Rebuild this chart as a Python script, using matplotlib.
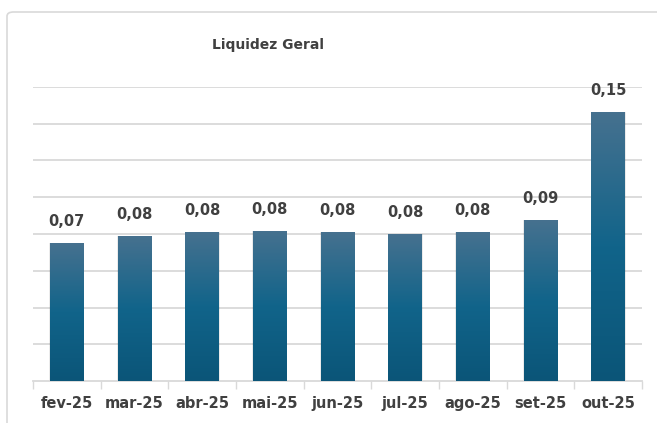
import matplotlib
matplotlib.use("Agg")
import matplotlib.pyplot as plt
import numpy as np
from matplotlib.colors import LinearSegmentedColormap
from matplotlib.patches import FancyBboxPatch

categories = ["fev-25", "mar-25", "abr-25", "mai-25", "jun-25", "jul-25", "ago-25", "set-25", "out-25"]
values = [0.0749, 0.0789, 0.0809, 0.0818, 0.0809, 0.0798, 0.0809, 0.0875, 0.1462]
labels = ["0,07", "0,08", "0,08", "0,08", "0,08", "0,08", "0,08", "0,09", "0,15"]
title = "Liquidez Geral"

W, H = 657, 423
fig = plt.figure(figsize=(W / 100, H / 100), dpi=100)
fig.patch.set_facecolor("white")

# outer chart frame (right and bottom edges fall outside the picture)
frame = FancyBboxPatch((7 / W, -0.2), 1.0, 1 - 12 / H + 0.2,
                       boxstyle="round,pad=0,rounding_size=0.01",
                       transform=fig.transFigure, fill=False,
                       edgecolor="#d9d9d9", linewidth=1.2, clip_on=False)
fig.patches.append(frame)

ax = fig.add_axes([33 / W, 1 - 381 / H, (642 - 33) / W, (381 - 87) / H])
ax.set_xlim(-0.5, len(categories) - 0.5)
ax.set_ylim(0, 0.16)

cmap = LinearSegmentedColormap.from_list("bar", ["#0b5578", "#11648a", "#46718f"])
grad = np.linspace(0, 1, 256).reshape(-1, 1)

x = np.arange(len(categories))
bars = ax.bar(x, values, width=0.5, color="none", edgecolor="none", zorder=3)
for b in bars:
    bx, by = b.get_x(), b.get_y()
    bw, bh = b.get_width(), b.get_height()
    ax.bar(bx + bw / 2, bh, width=bw * 1.04, color="#000000", alpha=0.08,
           edgecolor="none", zorder=2)
    im = ax.imshow(grad, extent=[bx, bx + bw, by, by + bh], origin="lower",
                   cmap=cmap, aspect="auto", zorder=3)
    im.set_clip_path(b)

for xi, v, lab in zip(x, values, labels):
    ax.annotate(lab, (xi, v), xytext=(0, 10), textcoords="offset points",
                ha="center", va="bottom", fontsize=10.5, fontweight="bold",
                color="#404040", zorder=4)

ax.set_yticks(np.arange(0.02, 0.161, 0.02))
ax.yaxis.grid(True, color="#d9d9d9", linewidth=1.3, zorder=0)
ax.set_axisbelow(True)
ax.tick_params(axis="y", left=False, labelleft=False)

ax.set_xticks(x)
ax.set_xticklabels(categories, fontsize=10.5, fontweight="bold", color="#404040")
ax.set_xticks(np.arange(-0.5, len(categories), 1), minor=True)
ax.tick_params(axis="x", which="major", length=0, pad=11)
ax.tick_params(axis="x", which="minor", length=6, color="#d9d9d9", width=1)

for s in ["top", "right", "left"]:
    ax.spines[s].set_visible(False)
ax.spines["bottom"].set_color("#d9d9d9")
ax.spines["bottom"].set_linewidth(1.3)

fig.text(268 / W, 1 - 45 / H, title, ha="center", va="center",
         fontsize=10, fontweight="bold", color="#404040")

fig.savefig("out.png", dpi=100, facecolor="white")
